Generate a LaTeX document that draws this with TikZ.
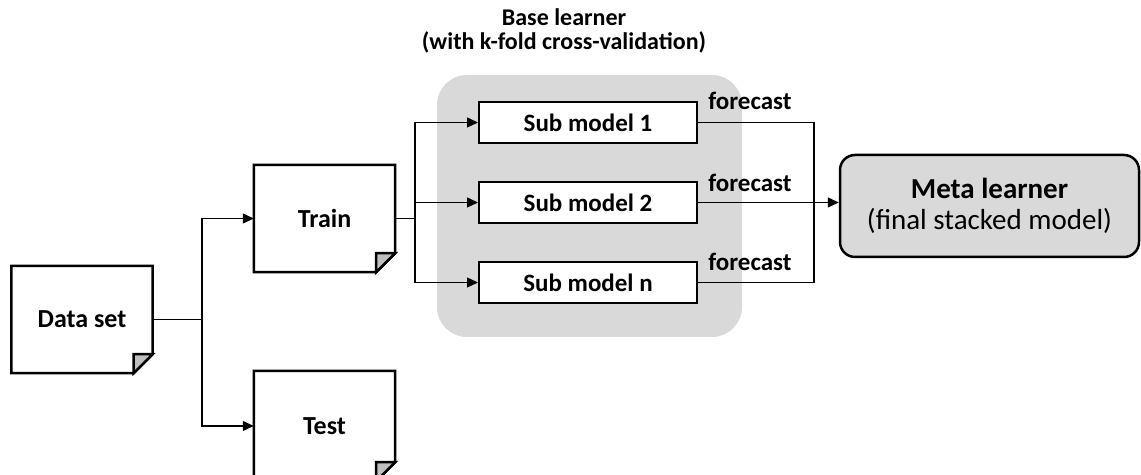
\documentclass[tikz,border=0pt]{standalone}
\usepackage{fontspec}
\setmainfont{Carlito}
\usetikzlibrary{arrows.meta}
\definecolor{panelgray}{HTML}{D9D9D9}
\definecolor{foldgray}{HTML}{BFBFBF}

% document symbol with a folded lower-right corner
\newcommand{\docoutline}[1]{%
  \draw[docline] (#1.north west) -- (#1.north east)
    -- ([yshift=19bp]#1.south east) -- ([xshift=-19bp]#1.south east)
    -- (#1.south west) -- cycle;
  \filldraw[docline, fill=foldgray] ([xshift=-19bp]#1.south east)
    -- ([xshift=-19bp,yshift=19bp]#1.south east)
    -- ([yshift=19bp]#1.south east) -- cycle;
}

\tikzset{
  doc/.style={minimum width=141bp, minimum height=107bp, inner sep=0pt,
    font=\fontsize{26bp}{30bp}\selectfont\bfseries},
  docline/.style={line width=2.5bp, line join=miter},
  submodel/.style={draw, line width=2bp, fill=white, minimum width=218bp,
    minimum height=41bp, inner sep=0pt,
    font=\fontsize{25bp}{28bp}\selectfont\bfseries},
  metabox/.style={draw, line width=2.5bp, rounded corners=15bp, fill=panelgray,
    minimum width=299bp, minimum height=102bp, inner sep=0pt, align=center,
    font=\fontsize{29bp}{31bp}\selectfont},
  panel/.style={fill=panelgray, rounded corners=30bp, minimum width=305bp,
    minimum height=262bp, inner sep=0pt},
  link/.style={line width=1.3bp},
  arrowlink/.style={link, -{Triangle[length=11bp,width=10bp]}},
  flabel/.style={font=\fontsize{25bp}{28bp}\selectfont\bfseries, inner sep=0pt},
  titletext/.style={font=\fontsize{24bp}{24bp}\selectfont\bfseries,
    align=center, inner sep=0pt}
}

\begin{document}
\begin{tikzpicture}[x=1bp, y=-1bp]
  \useasboundingbox (0,0) rectangle (1141,475);

  % base learner group
  \node[panel] (group) at (589.5,206) {};
  \node[titletext] (title) at (564,31) {Base learner\\(with k-fold cross-validation)};

  % data split
  \node[doc] (data)  at (82,319.5)  {Data set};
  \node[doc] (train) at (324.5,218.5) {Train};
  \node[doc, minimum height=110bp] (test) at (324.5,426) {Test};
  \docoutline{data}
  \docoutline{train}
  \docoutline{test}

  % sub models
  \node[submodel] (sub1) at (588,122.5) {Sub model 1};
  \node[submodel] (sub2) at (588,202.5) {Sub model 2};
  \node[submodel] (subn) at (588,282.5) {Sub model n};

  % meta learner
  \node[metabox] (meta) at (989.5,206)
    {\textbf{Meta learner}\\(final stacked model)};

  % branch points
  \coordinate (s1) at (202,0);
  \coordinate (s2) at (415,0);
  \coordinate (j)  at (814,0);

  \draw[link] (data.east) -- (s1 |- data.east);
  \draw[arrowlink] (s1 |- data.east) |- (train.west);
  \draw[arrowlink] (s1 |- data.east) |- (test.west);

  \draw[link] (train.east) -- (s2 |- train.east);
  \draw[arrowlink] (s2 |- train.east) |- (sub1.west);
  \draw[arrowlink] (s2 |- train.east) |- (sub2.west);
  \draw[arrowlink] (s2 |- train.east) |- (subn.west);

  \draw[link] (sub1.east) -| (j |- sub2.east);
  \draw[link] (subn.east) -| (j |- sub2.east);
  \draw[link] (sub2.east) -- (j |- sub2.east);
  \draw[arrowlink] (j |- sub2.east) -- (meta.west |- sub2.east);

  % forecast labels
  \node[flabel] (f1) at (750,101) {forecast};
  \node[flabel] (f2) at (750,183) {forecast};
  \node[flabel] (fn) at (750,262) {forecast};
\end{tikzpicture}
\end{document}
